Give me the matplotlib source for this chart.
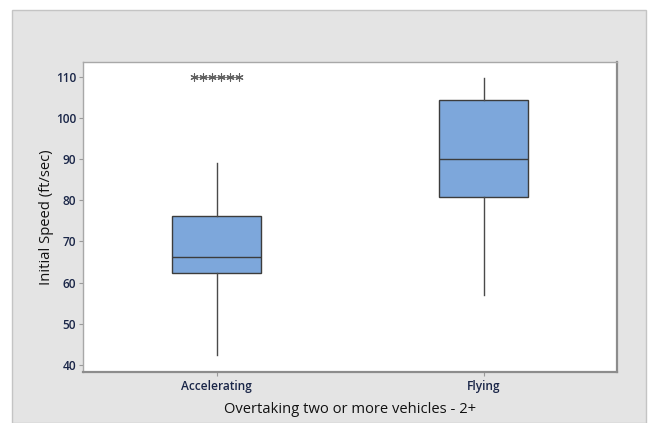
import numpy as np
import matplotlib.pyplot as plt
from matplotlib.patches import Rectangle

# Box statistics (ft/sec)
groups = ['Accelerating', 'Flying']
q1 = [62.3, 80.7]
med = [66.2, 90.0]
q3 = [76.3, 104.3]
whislo = [42.5, 57.0]
whishi = [89.1, 109.6]
outliers = [[110, 110, 110, 110, 110, 110], []]
yticks = [40, 50, 60, 70, 80, 90, 100, 110]

plt.rcParams['font.family'] = ['Open Sans', 'DejaVu Sans']

W, H = 648, 423
fig = plt.figure(figsize=(W / 100, H / 100), dpi=100)
fig.patch.set_facecolor('white')

# grey panel behind the plot
fig.patches.append(Rectangle((12 / W, 0), (646 - 12) / W, (423 - 10) / H,
                             transform=fig.transFigure, facecolor='#e4e4e4',
                             edgecolor='#c4c4c4', linewidth=1.0, zorder=-5))

ax = fig.add_axes([83 / W, (H - 372) / H, (617 - 83) / W, (372 - 62) / H])
ax.set_facecolor('white')

stats = []
for i, g in enumerate(groups):
    stats.append(dict(label=g, q1=q1[i], med=med[i], q3=q3[i],
                      whislo=whislo[i], whishi=whishi[i], fliers=[]))

pos = np.arange(1, len(groups) + 1)
ax.bxp(stats, positions=pos, widths=0.33, patch_artist=True, showcaps=False,
       boxprops=dict(facecolor='#7da7db', edgecolor='#3c3c3c', linewidth=1.0),
       medianprops=dict(color='#3c3c3c', linewidth=1.0),
       whiskerprops=dict(color='#4a4a4a', linewidth=1.0))

# outliers drawn as asterisks, tied values spread sideways
for i, vals in enumerate(outliers):
    if not vals:
        continue
    offs = np.linspace(-0.085, 0.085, len(vals))
    ax.scatter(pos[i] + offs, vals, marker=(6, 2, 0), s=28,
               color='#606060', linewidths=0.8, zorder=3)
    ax.plot(pos[i] + offs, vals, color='#707070', linewidth=0.8, zorder=2)

ax.set_xlim(0.5, 2.5)
ax.set_ylim(38.3, 113.6)
ax.set_yticks(yticks)
ax.set_xticks(pos)
ax.set_xticklabels(groups)

for s in ['left', 'top']:
    ax.spines[s].set_color('#a8a8a8')
    ax.spines[s].set_linewidth(1.0)
for s in ['right', 'bottom']:
    ax.spines[s].set_color('#8c8c8c')
    ax.spines[s].set_linewidth(1.6)

ax.tick_params(axis='both', colors='#9a9a9a', length=3, width=0.8,
               labelsize=8.6, labelcolor='#1a2648')
ax.tick_params(axis='y', pad=2)
ax.tick_params(axis='x', pad=3)
for lab in ax.get_xticklabels() + ax.get_yticklabels():
    lab.set_fontweight('semibold')

ax.set_ylabel('Initial Speed (ft/sec)', fontsize=10.6, color='#111111', labelpad=1)
ax.set_xlabel('Overtaking two or more vehicles - 2+', fontsize=10.6,
              color='#111111', labelpad=6)

fig.savefig('out.png', dpi=100)
